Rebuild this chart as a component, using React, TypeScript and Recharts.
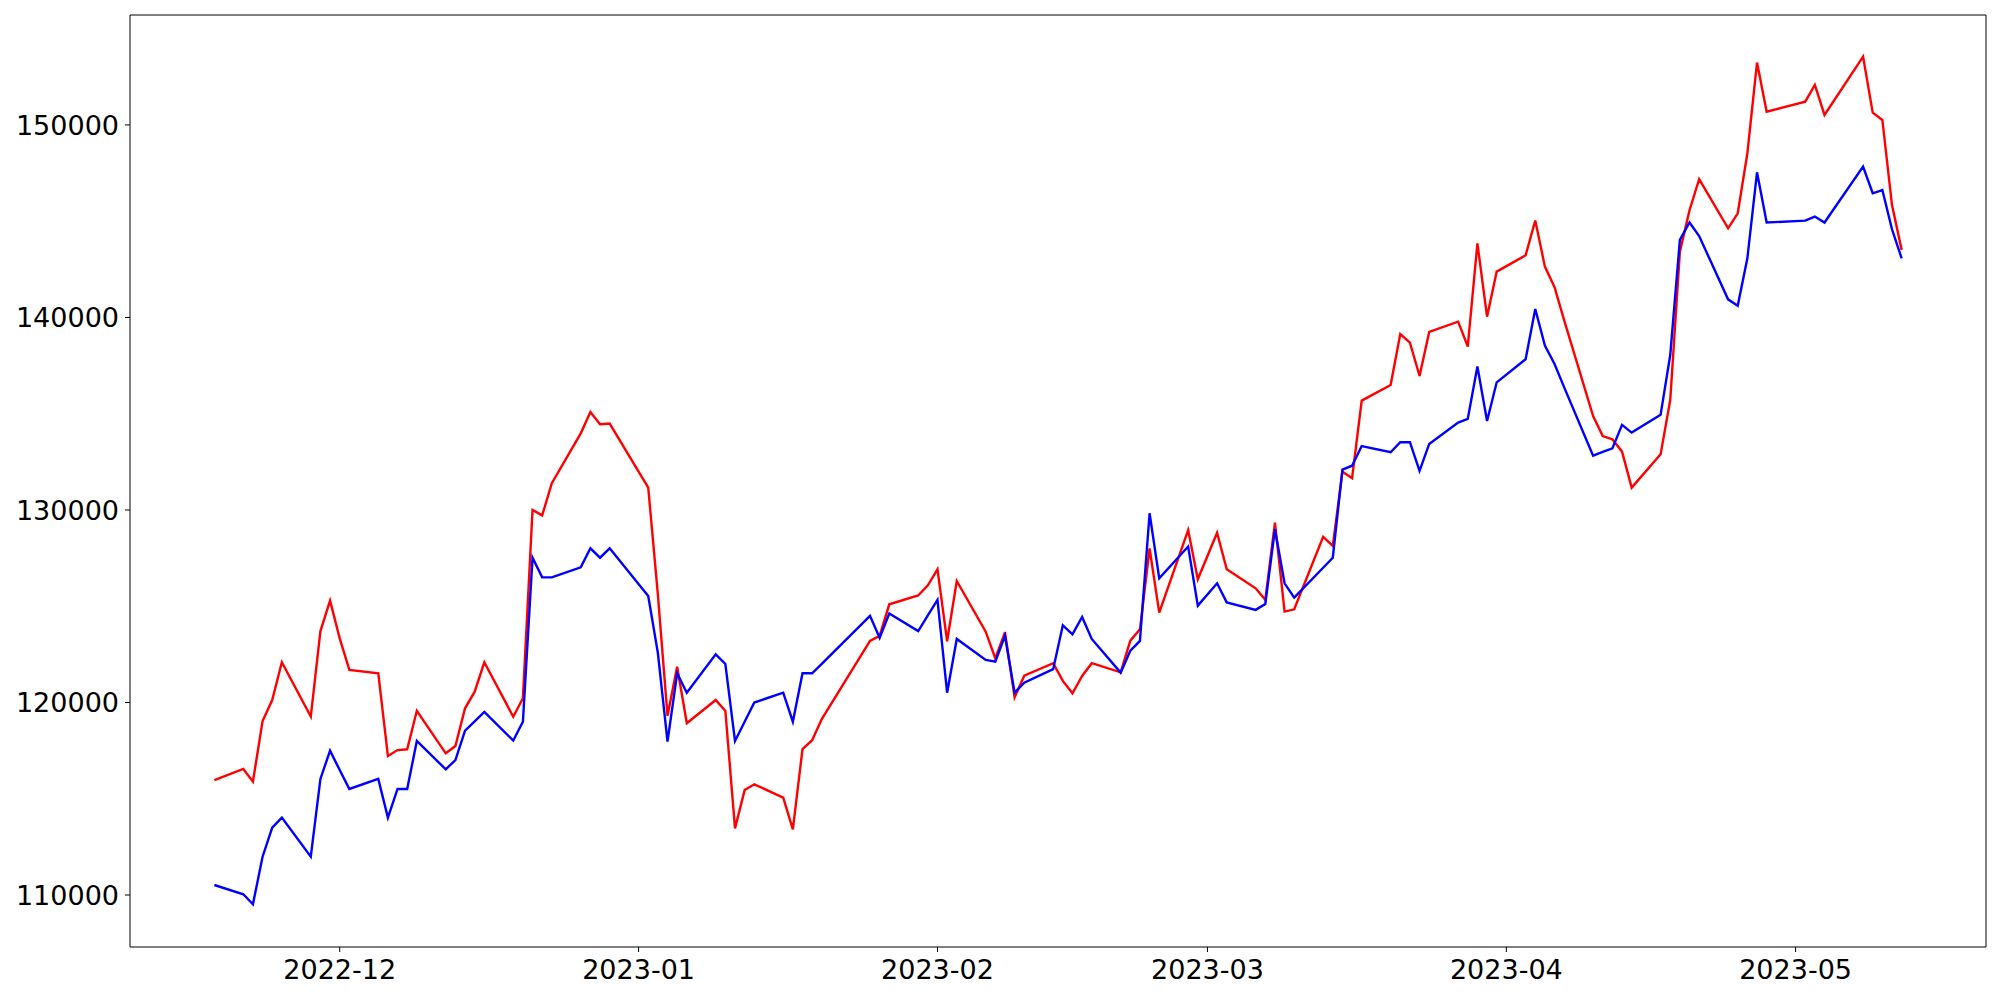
import { LineChart, Line, XAxis, YAxis } from "recharts";

// trading days, Nov 2022 - May 2023
const dates = [
  "2022-11-18", "2022-11-21", "2022-11-22", "2022-11-23", "2022-11-24", "2022-11-25", "2022-11-28", "2022-11-29", "2022-11-30",
  "2022-12-01", "2022-12-02", "2022-12-05", "2022-12-06", "2022-12-07", "2022-12-08", "2022-12-09", "2022-12-12", "2022-12-13",
  "2022-12-14", "2022-12-15", "2022-12-16", "2022-12-19", "2022-12-20", "2022-12-21", "2022-12-22", "2022-12-23", "2022-12-26",
  "2022-12-27", "2022-12-28", "2022-12-29",
  "2023-01-02", "2023-01-03", "2023-01-04", "2023-01-05", "2023-01-06", "2023-01-09", "2023-01-10", "2023-01-11", "2023-01-12",
  "2023-01-13", "2023-01-16", "2023-01-17", "2023-01-18", "2023-01-19", "2023-01-20", "2023-01-25", "2023-01-26", "2023-01-27",
  "2023-01-30", "2023-01-31",
  "2023-02-01", "2023-02-02", "2023-02-03", "2023-02-06", "2023-02-07", "2023-02-08", "2023-02-09", "2023-02-10", "2023-02-13",
  "2023-02-14", "2023-02-15", "2023-02-16", "2023-02-17", "2023-02-20", "2023-02-21", "2023-02-22", "2023-02-23", "2023-02-24",
  "2023-02-27", "2023-02-28",
  "2023-03-02", "2023-03-03", "2023-03-06", "2023-03-07", "2023-03-08", "2023-03-09", "2023-03-10", "2023-03-13", "2023-03-14",
  "2023-03-15", "2023-03-16", "2023-03-17", "2023-03-20", "2023-03-21", "2023-03-22", "2023-03-23", "2023-03-24", "2023-03-27",
  "2023-03-28", "2023-03-29", "2023-03-30", "2023-03-31",
  "2023-04-03", "2023-04-04", "2023-04-05", "2023-04-06", "2023-04-07", "2023-04-10", "2023-04-11", "2023-04-12", "2023-04-13",
  "2023-04-14", "2023-04-17", "2023-04-18", "2023-04-19", "2023-04-20", "2023-04-21", "2023-04-24", "2023-04-25", "2023-04-26",
  "2023-04-27", "2023-04-28",
  "2023-05-02", "2023-05-03", "2023-05-04", "2023-05-08", "2023-05-09", "2023-05-10", "2023-05-11", "2023-05-12",
];

const redValues = [
  115970, 116550, 115890, 119040, 120130, 122090, 119270, 123710, 125290,
  123330, 121690, 121520, 117220, 117530, 117570, 119570, 117360, 117740,
  119700, 120560, 122090, 119260, 120220, 130000, 129720, 131390, 133980,
  135090, 134450, 134490,
  131160, 125600, 119310, 121860, 118920, 120130, 119560, 113460, 115450,
  115750, 115060, 113410, 117580, 118040, 119140, 123200, 123460, 125100,
  125560, 126090,
  126920, 123180, 126310, 123680, 122290, 123650, 120270, 121390, 122040,
  121120, 120480, 121380, 122040, 121570, 123210, 123800, 128000, 124670,
  128960, 126400,
  128820, 126920, 125930, 125330, 129340, 124720, 124840, 128610, 128130,
  131990, 131650, 135680, 136490, 139140, 138690, 136960, 139250, 139780,
  138490, 143850, 140040, 142380,
  143230, 145030, 142640, 141570, 139850, 134880, 133840, 133670, 133030,
  131160, 132890, 135710, 143420, 145570, 147180, 144630, 145410, 148530,
  153240, 150690,
  151210, 152080, 150520, 153550, 150640, 150260, 145840, 143510,
];

const blueValues = [
  110520, 110040, 109520, 111990, 113500, 114020, 111990, 116030, 117500,
  116490, 115510, 116030, 114020, 115510, 115510, 118000, 116530, 117010,
  118540, 119020, 119510, 118020, 119000, 127520, 126500, 126500, 127020,
  128010, 127520, 128010,
  125530, 122570, 117970, 121520, 120510, 122500, 122000, 118000, 119000,
  120000, 120510, 119000, 121520, 121520, 122010, 124500, 123360, 124620,
  123710, 124520,
  125330, 120510, 123300, 122210, 122120, 123460, 120510, 121030, 121730,
  124010, 123540, 124440, 123300, 121550, 122690, 123200, 129830, 126450,
  128100, 125030,
  126190, 125200, 124810, 125120, 129000, 126190, 125450, 127000, 127520,
  132100, 132300, 133320, 133000, 133520, 133520, 132030, 133430, 134540,
  134730, 137450, 134620, 136630,
  137830, 140440, 138540, 137580, 136370, 132820, 133020, 133200, 134420,
  134020, 134940, 138050, 144030, 144930, 144230, 140940, 140610, 143070,
  147540, 144930,
  145030, 145240, 144930, 147840, 146450, 146620, 144580, 143070,
];

const monthTicks = ["2022-12-01", "2023-01-01", "2023-02-01", "2023-03-01", "2023-04-01", "2023-05-01"];
const yTicks = [110000, 120000, 130000, 140000, 150000];

const dayNum = (s: string) => {
  const [y, m, d] = s.split("-").map(Number);
  return Date.UTC(y, m - 1, d) / 86400000;
};

const fmtMonth = (v: number) => {
  const d = new Date(v * 86400000);
  return `${d.getUTCFullYear()}-${String(d.getUTCMonth() + 1).padStart(2, "0")}`;
};

const data = dates.map((d, i) => ({ t: dayNum(d), red: redValues[i], blue: blueValues[i] }));

const first = dayNum(dates[0]);
const last = dayNum(dates[dates.length - 1]);
const pad = (last - first) * 0.05;
const yDomain = [107300, 155710];

const tickStyle = { fontFamily: "DejaVu Sans", fontSize: 27, fill: "#000" };

export default function App() {
  return (
    <div style={{ position: "absolute", left: 0, top: 0, width: 2000, height: 1000, background: "#fff" }}>
      <LineChart width={2000} height={1000} data={data} margin={{ top: 14, right: 13, left: 10, bottom: 13 }}>
        <XAxis
          dataKey="t"
          type="number"
          domain={[first - pad, last + pad]}
          ticks={monthTicks.map(dayNum)}
          tickFormatter={fmtMonth}
          height={40}
          tick={tickStyle}
          tickSize={5}
          tickMargin={8}
          stroke="#000"
          allowDataOverflow
        />
        <XAxis
          xAxisId="top"
          dataKey="t"
          type="number"
          orientation="top"
          domain={[first - pad, last + pad]}
          ticks={[]}
          tick={false}
          tickLine={false}
          height={1}
          stroke="#000"
        />
        <YAxis
          type="number"
          domain={yDomain}
          ticks={yTicks}
          width={120}
          tick={tickStyle}
          tickSize={5}
          tickMargin={6}
          stroke="#000"
          allowDataOverflow
        />
        <YAxis
          yAxisId="right"
          type="number"
          orientation="right"
          domain={yDomain}
          ticks={[]}
          tick={false}
          tickLine={false}
          width={1}
          stroke="#000"
        />
        <Line dataKey="red" stroke="#ff0000" strokeWidth={2.4} dot={false} isAnimationActive={false} />
        <Line dataKey="blue" stroke="#0000ff" strokeWidth={2.4} dot={false} isAnimationActive={false} />
      </LineChart>
    </div>
  );
}
